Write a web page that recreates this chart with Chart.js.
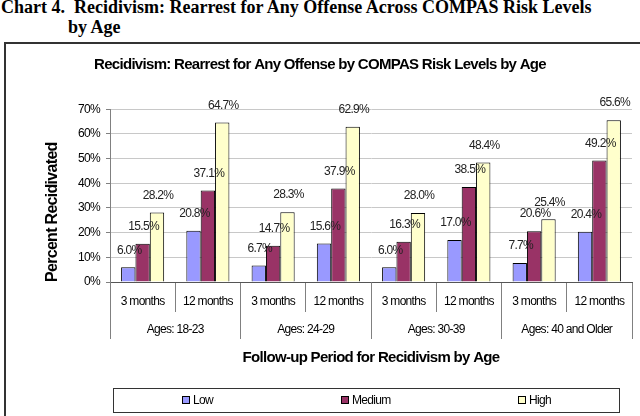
<!DOCTYPE html>
<html lang="en">
<head>
<meta charset="UTF-8">
<title>Recidivism: Rearrest for Any Offense by Age</title>
<script src="https://cdn.jsdelivr.net/npm/chart.js@4.4.0/dist/chart.umd.min.js"></script>
<style>
  body { margin: 0; width: 640px; height: 416px; overflow: hidden; background: #fff; position: relative; }
  .heading { position: absolute; left: 1px; top: -3px; font: bold 18px 'Liberation Serif', 'Times New Roman', serif; line-height: 20px; color: #000; white-space: pre; }
  .heading .second { padding-left: 67px; }
  .frame { position: absolute; left: 4px; top: 42px; width: 700px; height: 420px; border: 2px solid #333; }
  #chart { position: absolute; left: 0; top: 0; }
</style>
</head>
<body>
<div class="heading"><div>Chart 4.  Recidivism: Rearrest for Any Offense Across COMPAS Risk Levels</div><div class="second">by Age</div></div>
<div class="frame"></div>
<canvas id="chart" width="640" height="416"></canvas>

<script>
// data
const periods = ['3 months', '12 months', '3 months', '12 months', '3 months', '12 months', '3 months', '12 months'];
const ageGroups = ['Ages: 18-23', 'Ages: 24-29', 'Ages: 30-39', 'Ages: 40 and Older'];
const low = [6.0, 20.8, 6.7, 15.6, 6.0, 17.0, 7.7, 20.4];
const medium = [15.5, 37.1, 14.7, 37.9, 16.3, 38.5, 20.6, 49.2];
const high = [28.2, 64.7, 28.3, 62.9, 28.0, 48.4, 25.4, 65.6];

Chart.defaults.font.family = "'Liberation Sans', Arial, sans-serif";
Chart.defaults.color = '#000';

// tighter text like the original
const tightText = {
    id: 'tightText',
    beforeDraw(chart) {
        chart.ctx.letterSpacing = '-0.7px';
    }
};

// value labels above the bars
const barLabels = {
    id: 'barLabels',
    afterDatasetsDraw(chart) {
        const ctx = chart.ctx;
        ctx.save();
        ctx.font = "12px 'Liberation Sans', Arial, sans-serif";
        ctx.fillStyle = '#222';
        ctx.textAlign = 'center';
        ctx.textBaseline = 'middle';
        chart.data.datasets.forEach((ds, i) => {
            chart.getDatasetMeta(i).data.forEach((bar, j) => {
                ctx.fillText(ds.data[j].toFixed(1) + '%', bar.x + 1, bar.y - 17);
            });
        });
        ctx.restore();
    }
};

// boxed legend under the axis title
const boxLegend = {
    id: 'boxLegend',
    afterDraw(chart) {
        const ctx = chart.ctx;
        const area = chart.chartArea;
        const bottom = chart.scales.group.bottom;
        const left = area.left + 3, right = area.right - 13;
        const top = bottom + 21, h = 24;
        ctx.save();
        ctx.strokeStyle = '#333';
        ctx.lineWidth = 1;
        ctx.strokeRect(left + 0.5, top + 0.5, right - left, h);
        ctx.font = "12px 'Liberation Sans', Arial, sans-serif";
        ctx.textBaseline = 'middle';
        ctx.textAlign = 'left';
        const col = (right - left) / chart.data.datasets.length;
        chart.data.datasets.forEach((ds, i) => {
            const tw = ctx.measureText(ds.label).width;
            const w = 7 + 4 + tw;
            const x = Math.round(left + col * i + col / 2 - w / 2);
            const y = top + h / 2;
            ctx.fillStyle = ds.backgroundColor;
            ctx.fillRect(x, y - 4, 7, 7);
            ctx.strokeStyle = '#000';
            ctx.strokeRect(x + 0.5, y - 3.5, 7, 7);
            ctx.fillStyle = '#000';
            ctx.fillText(ds.label, x + 11, y + 1);
        });
        ctx.restore();
    }
};

const data = {
    labels: periods,
    datasets: [
        { label: 'Low', data: low, backgroundColor: '#9999FF' },
        { label: 'Medium', data: medium, backgroundColor: '#993366' },
        { label: 'High', data: high, backgroundColor: '#FFFFCC' }
    ]
};
data.datasets.forEach(ds => {
    ds.borderColor = '#000';
    ds.borderWidth = 1;
    ds.categoryPercentage = 0.66;
    ds.barPercentage = 1.0;
});

const config = {
    type: 'bar',
    data: data,
    plugins: [tightText, barLabels, boxLegend],
    options: {
        responsive: false,
        animation: false,
        layout: { padding: { left: 8, right: 8, top: 0, bottom: 49 } },
        plugins: {
            legend: { display: false },
            tooltip: { enabled: false },
            title: {
                display: true,
                text: 'Recidivism: Rearrest for Any Offense by COMPAS Risk Levels by Age',
                font: { size: 15, weight: 'bold' },
                color: '#000',
                padding: { top: 56, bottom: 35.3 }
            }
        },
        scales: {
            x: {
                offset: true,
                grid: { offset: true, drawOnChartArea: false, tickLength: 30, color: '#808080' },
                border: { color: '#555' },
                ticks: { padding: -17.2, font: { size: 12 }, color: '#000', maxRotation: 0, autoSkip: false },
                afterFit: s => { s.height = 30; }
            },
            group: {
                type: 'category',
                labels: ageGroups,
                position: 'bottom',
                offset: true,
                weight: 1,
                grid: { offset: true, drawOnChartArea: false, tickLength: 27, color: '#808080' },
                border: { display: false },
                ticks: { padding: -16.2, font: { size: 12 }, color: '#000', maxRotation: 0, autoSkip: false },
                title: {
                    display: true,
                    text: 'Follow-up Period for Recidivism by Age',
                    font: { size: 15, weight: 'bold' },
                    color: '#000',
                    padding: { top: 0, bottom: 0 }
                },
                afterFit: s => { s.height = 55; }
            },
            y: {
                min: 0,
                max: 70,
                ticks: { stepSize: 10, callback: v => v + '%', padding: 6, font: { size: 12 }, color: '#000' },
                grid: { color: '#c8c8c8', tickLength: 4, tickColor: '#808080' },
                border: { color: '#808080' },
                title: {
                    display: true,
                    text: 'Percent Recidivated',
                    align: 'start',
                    font: { size: 16, weight: 'bold' },
                    color: '#000',
                    padding: { top: 35, bottom: 0 }
                },
                afterFit: s => { s.width = 102; }
            }
        }
    }
};

const myChart = new Chart(document.getElementById('chart'), config);
</script>
</body>
</html>
